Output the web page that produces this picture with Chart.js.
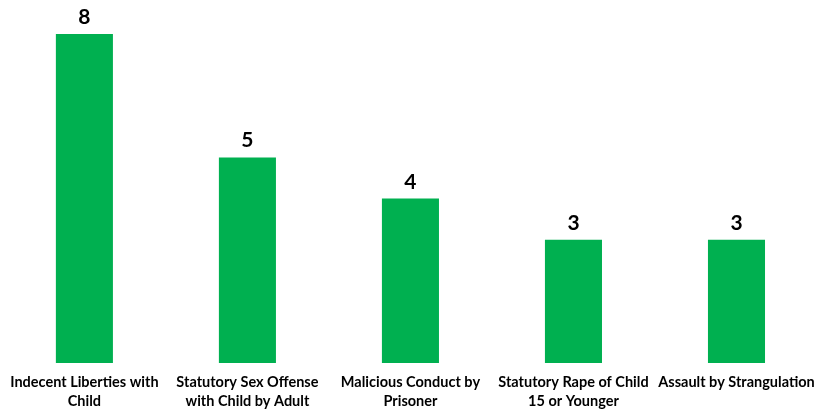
<!DOCTYPE html>
<html>
<head>
<meta charset="utf-8">
<script src="https://cdn.jsdelivr.net/npm/chart.js@4/dist/chart.umd.min.js"></script>
<style>
html,body{margin:0;padding:0;background:#fff;}
#wrap{width:831px;height:409px;position:relative;}
</style>
</head>
<body>
<div id="wrap"><canvas id="c" width="831" height="409"></canvas></div>
<script>
const categories = [
  ["Indecent Liberties with", "Child"],
  ["Statutory Sex Offense", "with Child by Adult"],
  ["Malicious Conduct by", "Prisoner"],
  ["Statutory Rape of Child", "15 or Younger"],
  ["Assault by Strangulation"]
];
const counts = [8, 5, 4, 3, 3];

const valueLabels = {
  id: 'valueLabels',
  afterDatasetsDraw(chart) {
    const ctx = chart.ctx;
    const meta = chart.getDatasetMeta(0);
    ctx.save();
    ctx.font = 'bold 21px Lato, "Liberation Sans", sans-serif';
    ctx.fillStyle = '#000';
    ctx.textAlign = 'center';
    ctx.textBaseline = 'alphabetic';
    meta.data.forEach((bar, i) => {
      ctx.fillText(String(counts[i]), bar.x, bar.y - 10);
    });
    ctx.restore();
  }
};

new Chart(document.getElementById('c'), {
  type: 'bar',
  data: {
    labels: categories,
    datasets: [{
      data: counts,
      backgroundColor: '#00B050',
      borderWidth: 0,
      categoryPercentage: 1,
      barPercentage: 0.35
    }]
  },
  options: {
    responsive: false,
    animation: false,
    layout: { padding: { top: 34, left: 2, right: 13, bottom: 0 } },
    plugins: { legend: { display: false }, tooltip: { enabled: false } },
    scales: {
      y: { display: false, min: 0, max: 8 },
      x: {
        afterFit(scale) { scale.height = 46; },
        grid: { display: false, drawTicks: false },
        border: { display: false },
        ticks: {
          color: '#000',
          font: { family: 'Lato, "Liberation Sans", sans-serif', weight: 'bold', size: 14.5, lineHeight: 1.3 },
          maxRotation: 0,
          autoSkip: false,
          padding: 10
        }
      }
    }
  },
  plugins: [valueLabels]
});
</script>
</body>
</html>
